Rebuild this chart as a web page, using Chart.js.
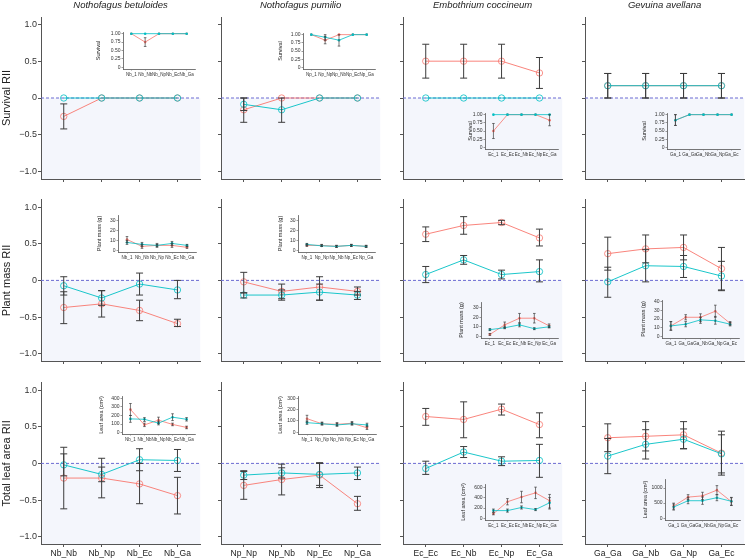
<!DOCTYPE html>
<html>
<head>
<meta charset="utf-8">
<script src="https://cdn.jsdelivr.net/npm/chart.js@4.4.1/dist/chart.umd.min.js"></script>
<style>
  html, body { margin: 0; padding: 0; background: #fff; }
  #page { position: relative; width: 746px; height: 558px; overflow: hidden; }
  .box { position: absolute; }
</style>
</head>
<body>
<div id="page"></div>
<script>
// ---- labels ----
const species = ['Nothofagus betuloides', 'Nothofagus pumilio', 'Embothrium coccineum', 'Gevuina avellana'];
const rowTitles = ['Survival RII', 'Plant mass RII', 'Total leaf area RII'];
const insetTitles = ['Survival', 'Plant mass (g)', 'Leaf area (cm²)'];
const mainCats = [
    ['Nb_Nb', 'Nb_Np', 'Nb_Ec', 'Nb_Ga'],
    ['Np_Np', 'Np_Nb', 'Np_Ec', 'Np_Ga'],
    ['Ec_Ec', 'Ec_Nb', 'Ec_Np', 'Ec_Ga'],
    ['Ga_Ga', 'Ga_Nb', 'Ga_Np', 'Ga_Ec']
];
const insetCats = [
    ['Nb_1', 'Nb_Nb', 'Nb_Np', 'Nb_Ec', 'Nb_Ga'],
    ['Np_1', 'Np_Np', 'Np_Nb', 'Np_Ec', 'Np_Ga'],
    ['Ec_1', 'Ec_Ec', 'Ec_Nb', 'Ec_Np', 'Ec_Ga'],
    ['Ga_1', 'Ga_Ga', 'Ga_Nb', 'Ga_Np', 'Ga_Ec']
];
const riiTicks = [-1, -0.5, 0, 0.5, 1];
const riiTickLabels = ['\u22121.0', '\u22120.5', '0', '0.5', '1.0'];

// ---- survival RII (red = first group, cyan = second group) ----
const survRed    = [[-0.25, 0, 0, 0], [-0.16, 0, 0, 0], [0.5, 0.5, 0.5, 0.34], [0.167, 0.167, 0.167, 0.167]];
const survRedLo  = [[-0.42, 0, 0, 0], [-0.33, 0, 0, 0], [0.27, 0.27, 0.27, 0.13], [0, 0, 0, 0]];
const survRedHi  = [[-0.08, 0, 0, 0], [0, 0, 0, 0], [0.73, 0.73, 0.73, 0.55], [0.333, 0.333, 0.333, 0.333]];
const survCyan   = [[0, 0, 0, 0], [-0.086, -0.16, 0, 0], [0, 0, 0, 0], [0.167, 0.167, 0.167, 0.167]];
const survCyanLo = [[0, 0, 0, 0], [-0.17, -0.33, 0, 0], [0, 0, 0, 0], [0, 0, 0, 0]];
const survCyanHi = [[0, 0, 0, 0], [0, 0, 0, 0], [0, 0, 0, 0], [0.333, 0.333, 0.333, 0.333]];

// ---- plant mass RII ----
const massRed    = [[-0.37, -0.32, -0.41, -0.59], [-0.02, -0.15, -0.09, -0.15], [0.63, 0.75, 0.79, 0.58], [0.365, 0.43, 0.45, 0.16]];
const massRedLo  = [[-0.59, -0.5, -0.55, -0.63], [-0.17, -0.25, -0.27, -0.2], [0.53, 0.63, 0.76, 0.47], [0.14, 0.24, 0.28, -0.13]];
const massRedHi  = [[-0.155, -0.14, -0.27, -0.53], [0.11, -0.05, 0.05, -0.09], [0.73, 0.87, 0.82, 0.7], [0.59, 0.62, 0.62, 0.45]];
const massCyan   = [[-0.073, -0.24, -0.05, -0.13], [-0.2, -0.2, -0.16, -0.2], [0.08, 0.28, 0.08, 0.12], [-0.02, 0.2, 0.19, 0.06]];
const massCyanLo = [[-0.2, -0.34, -0.2, -0.25], [-0.24, -0.27, -0.27, -0.26], [-0.03, 0.22, 0.02, -0.02], [-0.23, -0.02, 0.04, -0.14]];
const massCyanHi = [[0.05, -0.14, 0.1, 0.0], [-0.17, -0.13, -0.05, -0.15], [0.19, 0.34, 0.14, 0.28], [0.18, 0.42, 0.34, 0.26]];

// ---- total leaf area RII ----
const leafRed    = [[-0.2, -0.2, -0.28, -0.44], [-0.3, -0.22, -0.16, -0.55], [0.64, 0.6, 0.74, 0.53], [0.35, 0.37, 0.39, 0.14]];
const leafRedLo  = [[-0.62, -0.47, -0.55, -0.69], [-0.49, -0.43, -0.33, -0.64], [0.52, 0.35, 0.66, 0.35], [0.16, 0.17, 0.2, -0.16]];
const leafRedHi  = [[0.22, 0.07, 0.0, -0.19], [-0.11, -0.01, 0.01, -0.45], [0.75, 0.84, 0.81, 0.69], [0.54, 0.57, 0.57, 0.44]];
const leafCyan   = [[-0.02, -0.15, 0.05, 0.04], [-0.16, -0.13, -0.15, -0.13], [-0.07, 0.155, 0.03, 0.04], [0.1, 0.26, 0.33, 0.13]];
const leafCyanLo = [[-0.17, -0.25, -0.1, -0.11], [-0.22, -0.2, -0.3, -0.22], [-0.15, 0.08, -0.03, -0.19], [-0.14, 0.06, 0.2, -0.13]];
const leafCyanHi = [[0.13, -0.05, 0.2, 0.19], [-0.1, -0.06, 0.0, -0.05], [0.03, 0.23, 0.09, 0.26], [0.34, 0.46, 0.47, 0.39]];

// ---- inset: survival ----
const survInRed    = [[1, 0.75, 1, 1, 1], [1, 0.83, 1, 1, 1], [0.5, 1, 1, 1, 0.83], [0.83, 1, 1, 1, 1]];
const survInRedLo  = [[1, 0.62, 1, 1, 1], [1, 0.72, 1, 1, 1], [0.27, 1, 1, 1, 0.66], [0.67, 1, 1, 1, 1]];
const survInRedHi  = [[1, 0.88, 1, 1, 1], [1, 0.95, 1, 1, 1], [0.73, 1, 1, 1, 1], [1, 1, 1, 1, 1]];
const survInCyan   = [[1, 1, 1, 1, 1], [1, 0.92, 0.83, 1, 1], [1, 1, 1, 1, 1], [0.83, 1, 1, 1, 1]];
const survInCyanLo = [[1, 1, 1, 1, 1], [1, 0.83, 0.65, 1, 1], [1, 1, 1, 1, 1], [0.67, 1, 1, 1, 1]];
const survInCyanHi = [[1, 1, 1, 1, 1], [1, 1, 1, 1, 1], [1, 1, 1, 1, 1], [1, 1, 1, 1, 1]];

// ---- inset: plant mass (g) ----
const massInRed    = [[11, 4, 5, 5, 3], [5, 5, 4, 5, 4], [2, 12, 19, 19, 11], [12, 22, 22, 29, 15]];
const massInRedLo  = [[8, 2, 3, 3, 2], [4, 4, 3, 4, 3], [1, 9, 14, 14, 9], [7, 19, 17, 22, 13]];
const massInRedHi  = [[14, 6, 7, 7, 4], [6, 6, 5, 6, 5], [3, 15, 24, 24, 13], [17, 25, 26, 36, 17]];
const massInCyan   = [[8, 6, 5, 7, 5], [6, 4.5, 4, 5, 4], [7, 9, 12, 8, 10], [12, 14, 19, 18, 14]];
const massInCyanLo = [[6, 4, 4, 5, 4], [5, 4, 3, 4, 3], [6, 8, 10, 7, 9], [7, 11, 15, 14, 12]];
const massInCyanHi = [[10, 8, 6, 9, 6], [7, 5.5, 5, 6, 5], [8, 10, 14, 9, 11], [17, 17, 22, 23, 16]];

// ---- inset: leaf area (cm2) ----
const leafInRed    = [[270, 90, 145, 95, 60], [120, 75, 70, 80, 40], [90, 320, 410, 490, 340], [400, 700, 740, 930, 550]];
const leafInRedLo  = [[200, 70, 110, 80, 45], [90, 65, 55, 65, 25], [70, 260, 300, 380, 180], [300, 620, 620, 780, 420]];
const leafInRedHi  = [[340, 110, 180, 110, 75], [150, 90, 85, 95, 55], [110, 380, 520, 600, 460], [500, 780, 860, 1080, 680]];
const leafInCyan   = [[160, 155, 110, 180, 155], [85, 75, 65, 75, 65], [150, 150, 210, 170, 300], [370, 580, 580, 680, 560]];
const leafInCyanLo = [[120, 130, 90, 140, 135], [70, 65, 55, 65, 50], [120, 120, 180, 150, 200], [270, 480, 460, 580, 430]];
const leafInCyanHi = [[200, 175, 130, 220, 175], [100, 85, 80, 85, 80], [180, 180, 240, 190, 400], [470, 680, 700, 780, 690]];

// inset y axes
const insetYTicks = [
    [[0, 0.25, 0.5, 0.75, 1], [0, 0.25, 0.5, 0.75, 1], [0, 0.25, 0.5, 0.75, 1], [0, 0.25, 0.5, 0.75, 1]],
    [[0, 10, 20, 30], [0, 10, 20, 30], [0, 10, 20, 30], [0, 10, 20, 30, 40]],
    [[0, 100, 200, 300, 400], [0, 100, 200, 300], [0, 200, 400, 600], [0, 250, 500, 750, 1000, 1250]]
];
const survTickLabels = ['0', '0.25', '0.50', '0.75', '1.00'];
const insetYRange = [
    [[-0.05, 1.05], [-0.05, 1.05], [-0.05, 1.05], [-0.05, 1.05]],
    [[-1.75, 36], [-1.75, 36], [-1.75, 36], [-2, 42]],
    [[-17, 428], [-15, 320], [-30, 660], [-60, 1300]]
];

// ---- layout (page pixels) ----
const COL_L = [41, 221, 403, 585];
const ROW_T = [17, 199, 382];
const PLOT_W = 160, PLOT_H = 162;
// inset plot areas: left, top, right, bottom, y-axis width
const insetBox = [
    [[123, 30, 197, 69, 28], [303, 31, 377, 69, 26], [485, 111, 560, 149, 18], [667, 111, 742, 149, 26]],
    [[118, 213, 198, 252, 22], [298, 213, 377, 252, 21], [481, 300, 560, 338, 23], [662, 298, 741, 338, 22]],
    [[122, 394, 197, 434, 24], [298, 394, 378, 434, 21], [485, 482, 560, 520, 25], [665, 477, 742, 520, 23]]
];

const RED = '#F8766D', CYAN = '#00BFC4', BAR = '#3c3c3c', AXIS = '#555';
const FONT = 'Liberation Sans, Arial, Helvetica, sans-serif';

const mainData = [
    [survRed, survRedLo, survRedHi, survCyan, survCyanLo, survCyanHi],
    [massRed, massRedLo, massRedHi, massCyan, massCyanLo, massCyanHi],
    [leafRed, leafRedLo, leafRedHi, leafCyan, leafCyanLo, leafCyanHi]
];
const insetData = [
    [survInRed, survInRedLo, survInRedHi, survInCyan, survInCyanLo, survInCyanHi],
    [massInRed, massInRedLo, massInRedHi, massInCyan, massInCyanLo, massInCyanHi],
    [leafInRed, leafInRedLo, leafInRedHi, leafInCyan, leafInCyanLo, leafInCyanHi]
];

// error bars drawn through the chart scales
const errBars = {
    id: 'errBars',
    afterDatasetsDraw(chart, args, o) {
        const { ctx, scales: { x, y } } = chart;
        ctx.save();
        ctx.strokeStyle = o.color;
        ctx.lineWidth = o.width;
        chart.data.datasets.forEach(ds => {
            ds.data.forEach((p, i) => {
                const lo = ds.lo[i], hi = ds.hi[i];
                if (Math.abs(hi - lo) < 1e-9) return;
                const px = x.getPixelForValue(p.x);
                const y1 = y.getPixelForValue(lo), y2 = y.getPixelForValue(hi);
                ctx.beginPath();
                ctx.moveTo(px, y1); ctx.lineTo(px, y2);
                ctx.moveTo(px - o.cap, y1); ctx.lineTo(px + o.cap, y1);
                ctx.moveTo(px - o.cap, y2); ctx.lineTo(px + o.cap, y2);
                ctx.stroke();
            });
        });
        ctx.restore();
    }
};

// light band below zero + dashed zero line
const zeroBand = {
    id: 'zeroBand',
    beforeDraw(chart, args, o) {
        if (!o.on) return;
        const { ctx, chartArea: a, scales: { y } } = chart;
        const y0 = y.getPixelForValue(0);
        ctx.save();
        ctx.fillStyle = '#f4f6fc';
        ctx.fillRect(a.left, y0, a.right - a.left, a.bottom - y0);
        ctx.restore();
    },
    beforeDatasetsDraw(chart, args, o) {
        if (!o.on) return;
        const { ctx, chartArea: a, scales: { y } } = chart;
        const y0 = y.getPixelForValue(0);
        ctx.save();
        ctx.strokeStyle = '#6b6bd2';
        ctx.lineWidth = 1;
        ctx.setLineDash([3, 2]);
        ctx.beginPath();
        ctx.moveTo(a.left, y0); ctx.lineTo(a.right, y0);
        ctx.stroke();
        ctx.restore();
    }
};

function addCanvas(left, top, w, h) {
    const div = document.createElement('div');
    div.className = 'box';
    div.style.left = left + 'px';
    div.style.top = top + 'px';
    const cv = document.createElement('canvas');
    cv.width = w; cv.height = h;
    cv.style.width = w + 'px'; cv.style.height = h + 'px';
    div.appendChild(cv);
    document.getElementById('page').appendChild(div);
    return cv;
}

function pts(vals) {
    return vals.map((v, i) => ({ x: i + 1, y: v }));
}

function series(vals, lo, hi, color, radius, fill, lw) {
    return {
        data: pts(vals), lo: lo, hi: hi,
        borderColor: color, borderWidth: lw,
        pointBorderColor: color, pointBackgroundColor: fill ? color : 'rgba(0,0,0,0)',
        pointRadius: radius, pointBorderWidth: fill ? 0 : 0.8,
        tension: 0
    };
}

function mainChart(r, c) {
    const yw = c === 0 ? 41 : 10;
    const xh = 16;
    const padTop = r === 0 ? 0 : 4;
    const titleH = r === 0 ? 17 : 0;
    const left = COL_L[c] - yw, top = ROW_T[r] - padTop - titleH;
    const w = yw + PLOT_W + 4, h = padTop + titleH + PLOT_H + xh;
    const [rd, rlo, rhi, cy, clo, chi] = mainData[r];
    const cv = addCanvas(left, top, w, h);
    new Chart(cv, {
        type: 'line',
        data: {
            datasets: [
                series(cy[c], clo[c], chi[c], CYAN, 3.2, false, 0.9),
                series(rd[c], rlo[c], rhi[c], RED, 3.2, false, 0.9)
            ]
        },
        options: {
            responsive: false, animation: false, events: [],
            layout: { padding: { top: padTop, right: 4, left: 0, bottom: 0 } },
            plugins: {
                legend: { display: false }, tooltip: { enabled: false },
                title: {
                    display: r === 0, text: species[c], fullSize: false,
                    font: { family: FONT, size: 9.5, style: 'italic', weight: 'normal' },
                    color: '#222', padding: { top: 0, bottom: 5.6 }
                },
                errBars: { color: BAR, width: 1, cap: 3.5 },
                zeroBand: { on: true }
            },
            scales: {
                x: {
                    type: 'linear', min: 0.4, max: 4.6,
                    afterBuildTicks: s => { s.ticks = [1, 2, 3, 4].map(v => ({ value: v })); },
                    afterFit: s => { s.height = xh; s.paddingLeft = 0; s.paddingRight = 0; },
                    ticks: {
                        callback: (v, i) => r === 2 ? mainCats[c][i] : '',
                        font: { family: FONT, size: 8.5 }, color: '#222', padding: 1.5,
                        maxRotation: 0, autoSkip: false
                    },
                    grid: { drawOnChartArea: false, tickLength: 3, color: AXIS },
                    border: { color: AXIS, width: 1 }
                },
                y: {
                    type: 'linear', min: -1.1, max: 1.1,
                    afterBuildTicks: s => { s.ticks = riiTicks.map(v => ({ value: v })); },
                    afterFit: s => { s.width = yw; s.paddingTop = 0; s.paddingBottom = 0; },
                    ticks: {
                        callback: (v, i) => c === 0 ? riiTickLabels[i] : '',
                        font: { family: FONT, size: 9 }, color: '#333', padding: 1
                    },
                    grid: { drawOnChartArea: false, tickLength: 3, color: AXIS },
                    border: { color: AXIS, width: 1 },
                    title: {
                        display: c === 0, text: rowTitles[r],
                        font: { family: FONT, size: 11 }, color: '#222', padding: 0
                    }
                }
            }
        },
        plugins: [errBars, zeroBand]
    });
}

function insetChart(r, c) {
    const [L, T, R, B, yw] = insetBox[r][c];
    const xh = 12, padTop = 2, padRight = 2;
    const cv = addCanvas(L - yw, T - padTop, yw + (R - L) + padRight, padTop + (B - T) + xh);
    const [rd, rlo, rhi, cy, clo, chi] = insetData[r];
    const yt = insetYTicks[r][c];
    const [ymin, ymax] = insetYRange[r][c];
    new Chart(cv, {
        type: 'line',
        data: {
            datasets: [
                series(cy[c], clo[c], chi[c], CYAN, 1.3, true, 0.8),
                series(rd[c], rlo[c], rhi[c], RED, 1.3, true, 0.8)
            ]
        },
        options: {
            responsive: false, animation: false, events: [],
            layout: { padding: { top: padTop, right: padRight, left: 0, bottom: 0 } },
            plugins: {
                legend: { display: false }, tooltip: { enabled: false },
                errBars: { color: BAR, width: 0.7, cap: 1.3 },
                zeroBand: { on: false }
            },
            scales: {
                x: {
                    type: 'linear', min: 0.4, max: 5.6,
                    afterBuildTicks: s => { s.ticks = [1, 2, 3, 4, 5].map(v => ({ value: v })); },
                    afterFit: s => { s.height = xh; s.paddingLeft = 0; s.paddingRight = 0; },
                    ticks: {
                        callback: (v, i) => insetCats[c][i],
                        font: { family: FONT, size: 4.5 }, color: '#333', padding: 1.5,
                        maxRotation: 0, autoSkip: false
                    },
                    grid: { drawOnChartArea: false, tickLength: 1.5, color: AXIS, lineWidth: 0.6 },
                    border: { color: AXIS, width: 0.8 }
                },
                y: {
                    type: 'linear', min: ymin, max: ymax,
                    afterBuildTicks: s => { s.ticks = yt.map(v => ({ value: v })); },
                    afterFit: s => { s.width = yw; s.paddingTop = 0; s.paddingBottom = 0; },
                    ticks: {
                        callback: (v, i) => r === 0 ? survTickLabels[i] : String(yt[i]),
                        font: { family: FONT, size: 5 }, color: '#333', padding: 1
                    },
                    grid: { drawOnChartArea: false, tickLength: 1.5, color: AXIS, lineWidth: 0.6 },
                    border: { color: AXIS, width: 0.8 },
                    title: {
                        display: true, text: insetTitles[r],
                        font: { family: FONT, size: 5.5 }, color: '#222', padding: 0
                    }
                }
            }
        },
        plugins: [errBars, zeroBand]
    });
}

for (let r = 0; r < 3; r++) {
    for (let c = 0; c < 4; c++) mainChart(r, c);
}
for (let r = 0; r < 3; r++) {
    for (let c = 0; c < 4; c++) insetChart(r, c);
}
</script>
</body>
</html>
